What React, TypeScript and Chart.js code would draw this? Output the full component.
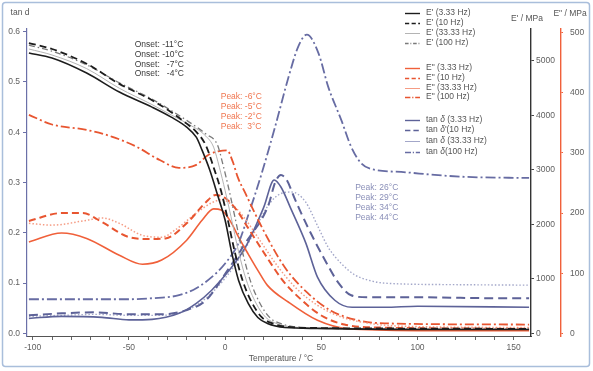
import React, { useEffect, useRef } from 'react';
import { Chart, registerables } from 'chart.js';
Chart.register(...registerables);

// ---------- Data ----------
// Storage modulus E' (MPa), right axis 1
const tE1_333 = [-102, -90, -72, -55, -38, -28, -20, -15, -12, -8, -4, 0, 3.5, 7, 12, 17, 22, 31, 48, 100, 158];
const vE1_333 = [5146, 5055, 4779, 4430, 4154, 3970, 3786, 3602, 3364, 3000, 2550, 2077, 1470, 974, 551, 294, 184, 110, 92, 74, 74];
const tE1_10 = [-102, -90, -72, -55, -38, -28, -20, -15, -10, -6, -2, 1, 5, 9, 14, 19, 25, 33, 50, 100, 158];
const vE1_10 = [5330, 5220, 4950, 4580, 4280, 4060, 3850, 3700, 3450, 3050, 2600, 2150, 1500, 980, 560, 300, 180, 120, 100, 90, 85];
const tE1_3333 = [-102, -90, -72, -55, -38, -28, -20, -10, -6, -3, 0, 3, 7, 11, 16, 21, 27, 35, 50, 100, 158];
const vE1_3333 = [5220, 5110, 4860, 4500, 4200, 4010, 3860, 3620, 3420, 3050, 2620, 2150, 1500, 980, 560, 300, 180, 120, 100, 85, 80];
const tE1_100 = [-102, -90, -72, -55, -38, -28, -20, -10, -4, -1, 2, 5, 9, 13, 18, 23, 29, 37, 50, 100, 158];
const vE1_100 = [5290, 5180, 4930, 4600, 4300, 4090, 3910, 3660, 3460, 3080, 2640, 2150, 1500, 980, 560, 300, 180, 120, 100, 85, 80];

// Loss modulus E" (MPa), right axis 2
const tE2_333 = [-102, -85, -72, -55, -43, -33, -20, -12, -6, -2, 3, 7, 12, 17, 22, 33, 48, 64, 100, 158];
const vE2_333 = [152, 167, 158, 130, 115, 122, 155, 188, 207, 205, 185, 160, 132, 105, 80, 52, 22, 8, 5, 5];
const tE2_10 = [-102, -85, -74, -64, -50, -40, -31, -20, -10, -5, 0, 6, 12, 20, 30, 40, 50, 62, 80, 158];
const vE2_10 = [187, 200, 200, 185, 160, 157, 158, 183, 218, 230, 225, 205, 175, 135, 88, 55, 30, 15, 10, 8];
const tE2_3333 = [-102, -90, -72, -64, -55, -43, -33, -26, -15, -7, -2, 4, 10, 18, 27, 37, 48, 60, 75, 95, 158];
const vE2_3333 = [183, 180, 188, 192, 183, 163, 160, 172, 200, 217, 222, 213, 192, 155, 113, 75, 47, 28, 17, 12, 10];
const tE2_100 = [-102, -90, -72, -59, -46, -34, -24, -15, -9, -3, 1, 4, 6.5, 10.5, 19, 31, 43, 55, 69, 83, 158];
const vE2_100 = [363, 347, 338, 327, 310, 288, 275, 280, 296, 303, 304, 285, 260, 233, 177, 110, 67, 38, 22, 17, 15];

// tan delta, left axis
const tTd_333 = [-102, -85, -64, -50, -38, -24, -15, -7, 2, 10.5, 20, 25.5, 29, 34.5, 42, 48, 57, 66, 83, 100, 158];
const vTd_333 = [0.030, 0.034, 0.032, 0.027, 0.028, 0.040, 0.060, 0.086, 0.125, 0.171, 0.250, 0.305, 0.291, 0.245, 0.179, 0.112, 0.066, 0.052, 0.052, 0.054, 0.052];
const tTd_10 = [-102, -85, -67, -50, -33, -20.5, -10, 0.3, 10.6, 22.5, 26, 29, 32, 36.5, 43, 52, 59, 65.5, 74, 100, 142, 158];
const vTd_10 = [0.036, 0.040, 0.042, 0.038, 0.038, 0.046, 0.066, 0.120, 0.180, 0.255, 0.300, 0.315, 0.305, 0.265, 0.211, 0.145, 0.100, 0.076, 0.072, 0.072, 0.070, 0.070];
const tTd_3333 = [-102, -85, -67, -50, -33, -20, -10, 0, 10, 22.5, 29, 34.5, 41.7, 48.4, 53.6, 60.4, 67.6, 74.4, 83, 120, 158];
const vTd_3333 = [0.034, 0.036, 0.038, 0.036, 0.036, 0.046, 0.070, 0.110, 0.165, 0.255, 0.278, 0.281, 0.262, 0.211, 0.171, 0.139, 0.116, 0.106, 0.100, 0.097, 0.096];
const tTd_100 = [-102, -85, -67, -50, -38, -24, -15, -7, 0, 7, 12, 19, 26, 33, 38, 42.5, 48.5, 53.6, 60.4, 65.5, 70.8, 78, 91.5, 109, 126, 158];
const vTd_100 = [0.068, 0.068, 0.068, 0.068, 0.070, 0.076, 0.090, 0.112, 0.139, 0.180, 0.235, 0.318, 0.411, 0.510, 0.570, 0.594, 0.557, 0.490, 0.424, 0.371, 0.338, 0.325, 0.321, 0.315, 0.311, 0.309];

// Tick labels
const xTickValues = [-100, -50, 0, 50, 100, 150];
const tanTickValues = [0, 0.1, 0.2, 0.3, 0.4, 0.5, 0.6];
const e1TickValues = [0, 1000, 2000, 3000, 4000, 5000];
const e2TickValues = [0, 100, 200, 300, 400, 500];

// Annotation texts
const onsetLines = ['Onset: -11°C', 'Onset: -10°C', 'Onset:   -7°C', 'Onset:   -4°C'];
const redPeakLines = ['Peak: -6°C', 'Peak: -5°C', 'Peak: -2°C', 'Peak:  3°C'];
const bluePeakLines = ['Peak: 26°C', 'Peak: 29°C', 'Peak: 34°C', 'Peak: 44°C'];

const FONT = '"Liberation Sans", Arial, Helvetica, sans-serif';
const BLACK = '#1c1c1c';
const GREY_L = '#b4b4b4';
const GREY_D = '#7a7a7a';
const RED = '#f0603a';
const RED_L = '#f59c84';
const RED_D = '#e85530';
const BLUE = '#5d6298';
const BLUE_L = '#a3a7c9';
const BLUE_D = '#676ca3';

type Sty = { color: string; width: number; dash: number[] };
const styles: Record<string, Sty> = {
  e1a: { color: BLACK, width: 1.6, dash: [] },
  e1b: { color: BLACK, width: 1.8, dash: [7, 4] },
  e1c: { color: GREY_L, width: 1, dash: [] },
  e1d: { color: GREY_D, width: 1.3, dash: [6, 3, 1.5, 3] },
  e2a: { color: RED, width: 1.6, dash: [] },
  e2b: { color: RED_D, width: 2, dash: [7, 4] },
  e2c: { color: RED_L, width: 1.5, dash: [1.5, 2] },
  e2d: { color: RED_D, width: 1.8, dash: [9, 3, 2, 3] },
  tda: { color: BLUE, width: 1.6, dash: [] },
  tdb: { color: BLUE, width: 2, dash: [9, 5] },
  tdc: { color: BLUE_L, width: 1.4, dash: [1.5, 2] },
  tdd: { color: BLUE_D, width: 1.8, dash: [10, 3, 2, 3] },
};

export default function App() {
  const ref = useRef<HTMLCanvasElement | null>(null);
  useEffect(() => {
    if (!ref.current) return;
    const pts = (t: number[], v: number[]) => t.map((x, i) => ({ x, y: v[i] }));
    const ds = (label: string, t: number[], v: number[], axis: string, key: string) => ({
      label,
      data: pts(t, v),
      yAxisID: axis,
      borderColor: styles[key].color,
      borderWidth: styles[key].width,
      borderDash: styles[key].dash,
      pointRadius: 0,
      fill: false,
      cubicInterpolationMode: 'monotone' as const,
    });

    const fixedTicks = (vals: number[]) => (scale: any) => {
      scale.ticks = vals.map((v) => ({ value: v }));
    };

    const decor = {
      id: 'decor',
      beforeDraw(chart: any) {
        const ctx = chart.ctx;
        ctx.save();
        ctx.fillStyle = '#ffffff';
        ctx.fillRect(0, 0, chart.width, chart.height);
        ctx.strokeStyle = '#a9bedb';
        ctx.lineWidth = 1.5;
        ctx.beginPath();
        (ctx as any).roundRect ? ctx.roundRect(2.5, 2.5, 587, 364, 3) : ctx.rect(2.5, 2.5, 587, 364);
        ctx.stroke();
        ctx.restore();
      },
      afterDraw(chart: any) {
        const ctx = chart.ctx;
        const sx = chart.scales.x;
        const sy = chart.scales.y;
        const y1 = chart.scales.y1;
        const y2 = chart.scales.y2;
        ctx.save();
        ctx.textBaseline = 'middle';
        // axis titles
        ctx.font = `8.5px ${FONT}`;
        ctx.fillStyle = '#555';
        ctx.textAlign = 'center';
        ctx.fillText('tan d', sy.right - 7, 13);
        ctx.fillText("E' / MPa", y1.left - 4, 19);
        ctx.fillText('E" / MPa', y2.left + 9, 14);
        ctx.fillText('Temperature / °C', (sx.left + sx.right) / 2 + 2, 359);

        // annotations
        ctx.textAlign = 'left';
        ctx.font = `8.5px ${FONT}`;
        const block = (lines: string[], T: number, v: number, color: string, step: number) => {
          ctx.fillStyle = color;
          const x = sx.getPixelForValue(T);
          const y = sy.getPixelForValue(v);
          lines.forEach((s, i) => ctx.fillText(s, x, y + i * step));
        };
        block(onsetLines, -47, 0.574, '#3a3a3a', 9.8);
        block(redPeakLines, -2.3, 0.470, '#f07650', 9.8);
        block(bluePeakLines, 67.6, 0.289, '#8a8fb8', 9.8);

        // legend
        const legendX0 = 405;
        const legendX1 = 420;
        const textX = 426;
        const entries: [string, string, number][] = [
          ['e1a', "E' (3.33 Hz)", 13],
          ['e1b', "E' (10 Hz)", 23],
          ['e1c', "E' (33.33 Hz)", 33],
          ['e1d', "E' (100 Hz)", 43],
          ['e2a', 'E" (3.33 Hz)', 68],
          ['e2b', 'E" (10 Hz)', 78],
          ['e2c', 'E" (33.33 Hz)', 88],
          ['e2d', 'E" (100 Hz)', 97],
          ['tda', 'tan |δ| (3.33 Hz)', 120],
          ['tdb', "tan |δ|'(10 Hz)", 130],
          ['tdc', 'tan |δ| (33.33 Hz)', 141],
          ['tdd', 'tan |δ|(100 Hz)', 152],
        ];
        entries.forEach(([key, label, y]) => {
          const st = styles[key];
          ctx.save();
          ctx.strokeStyle = st.color;
          const isLight = key.endsWith('c');
          ctx.lineWidth = isLight ? 1 : Math.min(st.width, 1.4);
          ctx.setLineDash(isLight ? [] : st.dash.map((d) => d * 0.6));
          ctx.beginPath();
          ctx.moveTo(legendX0, y + 0.5);
          ctx.lineTo(legendX1, y + 0.5);
          ctx.stroke();
          ctx.restore();
          ctx.fillStyle = '#555';
          let x = textX;
          label.split('|').forEach((part, i) => {
            ctx.font = i === 1 ? `italic 8.5px ${FONT}` : `8.5px ${FONT}`;
            ctx.fillText(part, x, y);
            x += ctx.measureText(part).width;
          });
        });
        ctx.restore();
      },
    };

    const tickFont = { family: FONT, size: 8.5 };
    const chart = new Chart(ref.current, {
      type: 'line',
      data: {
        datasets: [
          ds("E' (3.33 Hz)", tE1_333, vE1_333, 'y1', 'e1a'),
          ds("E' (10 Hz)", tE1_10, vE1_10, 'y1', 'e1b'),
          ds("E' (33.33 Hz)", tE1_3333, vE1_3333, 'y1', 'e1c'),
          ds("E' (100 Hz)", tE1_100, vE1_100, 'y1', 'e1d'),
          ds('E" (3.33 Hz)', tE2_333, vE2_333, 'y2', 'e2a'),
          ds('E" (10 Hz)', tE2_10, vE2_10, 'y2', 'e2b'),
          ds('E" (33.33 Hz)', tE2_3333, vE2_3333, 'y2', 'e2c'),
          ds('E" (100 Hz)', tE2_100, vE2_100, 'y2', 'e2d'),
          ds('tan δ (3.33 Hz)', tTd_333, vTd_333, 'y', 'tda'),
          ds('tan δ (10 Hz)', tTd_10, vTd_10, 'y', 'tdb'),
          ds('tan δ (33.33 Hz)', tTd_3333, vTd_3333, 'y', 'tdc'),
          ds('tan δ (100 Hz)', tTd_100, vTd_100, 'y', 'tdd'),
        ] as any,
      },
      options: {
        animation: false,
        responsive: false,
        devicePixelRatio: 1,
        layout: { padding: { left: 0, right: 0, top: 29, bottom: 0 } },
        plugins: { legend: { display: false }, tooltip: { enabled: false } },
        scales: {
          x: {
            type: 'linear',
            min: -103,
            max: 159,
            afterFit: (s: any) => { s.height = 35; },
            afterBuildTicks: (s: any) => {
              const arr: { value: number }[] = [];
              for (let v = -100; v <= 150; v += 10) arr.push({ value: v });
              s.ticks = arr;
            },
            ticks: {
              autoSkip: false,
              maxRotation: 0,
              padding: 3,
              color: '#606060',
              font: tickFont,
              callback: (v: any) => (xTickValues.includes(Number(v)) ? String(v) : ''),
            },
            grid: { drawOnChartArea: false, drawTicks: true, tickLength: 4, color: '#666' },
            border: { display: true, color: '#555', width: 1 },
          },
          y: {
            type: 'linear',
            position: 'left',
            min: -0.005,
            max: 0.605,
            afterFit: (s: any) => { s.width = 27; },
            afterBuildTicks: fixedTicks(tanTickValues),
            ticks: { padding: 3, color: '#606060', font: tickFont, callback: (v: any) => Number(v).toFixed(1) },
            grid: { drawOnChartArea: false, drawTicks: true, tickLength: 4, color: '#6b70a8' },
            border: { display: true, color: '#6b70a8', width: 1.2 },
          },
          y1: {
            type: 'linear',
            position: 'right',
            weight: 0,
            min: -46,
            max: 5587,
            afterFit: (s: any) => { s.width = 30; },
            afterBuildTicks: fixedTicks(e1TickValues),
            ticks: { padding: 2, color: '#606060', font: tickFont, callback: (v: any) => String(v) },
            grid: { drawOnChartArea: false, drawTicks: true, tickLength: 3, color: '#444' },
            border: { display: true, color: '#333', width: 1.4 },
          },
          y2: {
            type: 'linear',
            position: 'right',
            weight: 1,
            min: -4,
            max: 505.5,
            afterFit: (s: any) => { s.width = 32; },
            afterBuildTicks: fixedTicks(e2TickValues),
            ticks: { padding: 7, color: '#606060', font: tickFont, callback: (v: any) => String(v) },
            grid: { drawOnChartArea: false, drawTicks: true, tickLength: 2, color: RED },
            border: { display: true, color: RED, width: 1.4 },
          },
        },
      } as any,
      plugins: [decor],
    });
    return () => chart.destroy();
  }, []);

  return (
    <div style={{ position: 'absolute', left: 0, top: 0, width: 593, height: 371, background: '#fff' }}>
      <canvas ref={ref} width={593} height={371} style={{ display: 'block', width: 593, height: 371 }} />
    </div>
  );
}
